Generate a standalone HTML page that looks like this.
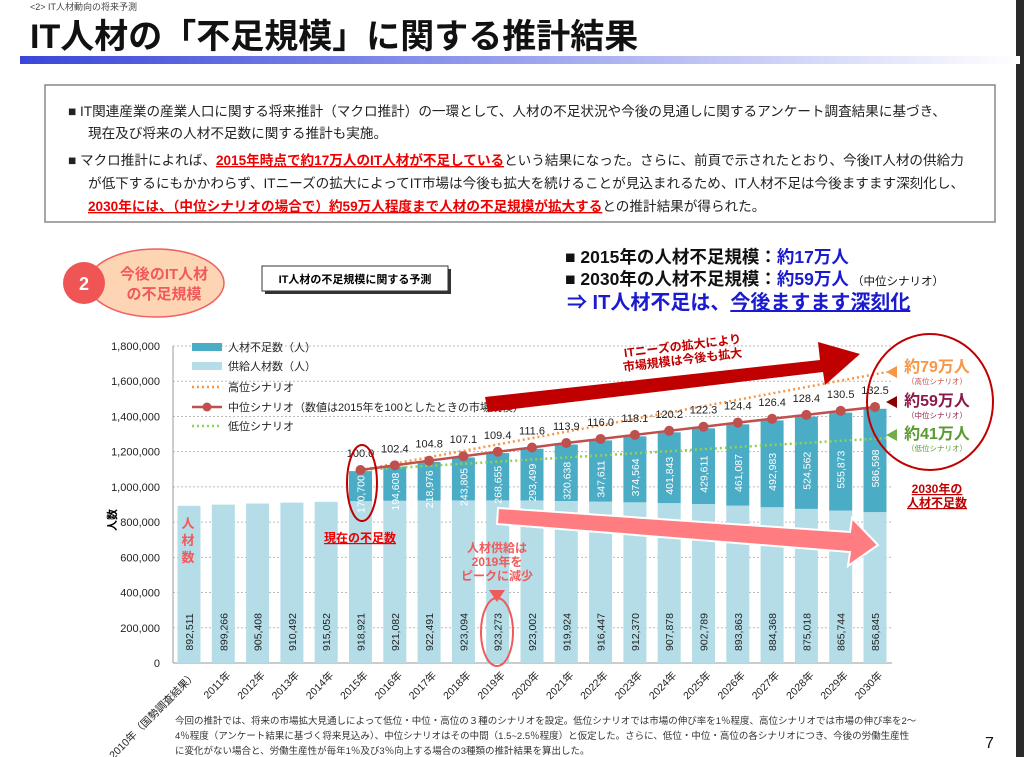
<!DOCTYPE html>
<html><head><meta charset="utf-8"><style>
body{margin:0;background:#fff;}
svg{display:block;font-family:"Liberation Sans","Noto Sans CJK JP",sans-serif;}
</style></head><body>
<svg id="s" width="1024" height="757" viewBox="0 0 1024 757" xmlns="http://www.w3.org/2000/svg">
<defs>
<linearGradient id="g1" x1="0" x2="1"><stop offset="0" stop-color="#3a46d8"/><stop offset="0.5" stop-color="#9aa2ee"/><stop offset="1" stop-color="#ffffff"/></linearGradient>
</defs>
<rect x="1016" y="0" width="8" height="757" fill="#2a2a2a"/>
<text x="30" y="10" font-size="9" fill="#444">&lt;2&gt; IT人材動向の将来予測</text>
<text x="30" y="48" font-size="34" font-weight="bold" fill="#111">IT人材の「不足規模」に関する推計結果</text>
<rect x="20" y="56" width="1000" height="8" fill="url(#g1)"/>
<g>
<rect x="45" y="85" width="950" height="137" fill="#fff" stroke="#888" stroke-width="1.5"/>
<g font-size="13.6" fill="#222">
<text x="68" y="116">■ IT関連産業の産業人口に関する将来推計（マクロ推計）の一環として、人材の不足状況や今後の見通しに関するアンケート調査結果に基づき、</text>
<text x="88" y="138">現在及び将来の人材不足数に関する推計も実施。</text>
<text x="68" y="165">■ マクロ推計によれば、<tspan fill="#e00" font-weight="bold" text-decoration="underline">2015年時点で約17万人のIT人材が不足している</tspan>という結果になった。さらに、前頁で示されたとおり、今後IT人材の供給力</text>
<text x="88" y="188">が低下するにもかかわらず、ITニーズの拡大によってIT市場は今後も拡大を続けることが見込まれるため、IT人材不足は今後ますます深刻化し、</text>
<text x="88" y="211"><tspan fill="#e00" font-weight="bold" text-decoration="underline">2030年には、（中位シナリオの場合で）約59万人程度まで人材の不足規模が拡大する</tspan>との推計結果が得られた。</text>
</g></g>
<g>
<ellipse cx="156" cy="283" rx="68" ry="34" fill="#fdd5b5" stroke="#f06060" stroke-width="1.5"/>
<circle cx="84" cy="283" r="21" fill="#f05555"/>
<text x="84" y="290" font-size="18" font-weight="bold" fill="#fff" text-anchor="middle">2</text>
<text x="164" y="279" font-size="15" font-weight="bold" fill="#f05a5a" text-anchor="middle">今後のIT人材</text>
<text x="164" y="299" font-size="15" font-weight="bold" fill="#f05a5a" text-anchor="middle">の不足規模</text>
</g>
<g>
<rect x="265" y="269" width="186" height="25" fill="#333"/>
<rect x="262" y="266" width="186" height="25" fill="#fff" stroke="#333"/>
<text x="355" y="283" font-size="11" font-weight="bold" text-anchor="middle">IT人材の不足規模に関する予測</text>
</g>
<g font-weight="bold">
<text x="565" y="263" font-size="17.5" fill="#111">■ 2015年の人材不足規模：<tspan fill="#1a1ad0">約17万人</tspan></text>
<text x="565" y="285" font-size="17.5" fill="#111">■ 2030年の人材不足規模：<tspan fill="#1a1ad0">約59万人</tspan><tspan font-size="11.5" font-weight="normal"> （中位シナリオ）</tspan></text>
<text x="567" y="309" font-size="20" fill="#1a1ad0">⇒ IT人材不足は、<tspan text-decoration="underline">今後ますます深刻化</tspan></text>
</g>
<g id="chart"></g>
<g font-size="9.5" fill="#333">
<text x="175" y="724">今回の推計では、将来の市場拡大見通しによって低位・中位・高位の３種のシナリオを設定。低位シナリオでは市場の伸び率を1％程度、高位シナリオでは市場の伸び率を2～</text>
<text x="175" y="739">4％程度（アンケート結果に基づく将来見込み）、中位シナリオはその中間（1.5~2.5％程度）と仮定した。さらに、低位・中位・高位の各シナリオにつき、今後の労働生産性</text>
<text x="175" y="754">に変化がない場合と、労働生産性が毎年1％及び3％向上する場合の3種類の推計結果を算出した。</text>
</g>
<text x="985" y="748" font-size="16" fill="#111">7</text>
<script>
const years=["2010年（国勢調査結果）","2011年","2012年","2013年","2014年","2015年","2016年","2017年","2018年","2019年","2020年","2021年","2022年","2023年","2024年","2025年","2026年","2027年","2028年","2029年","2030年"];
const supply=[892511,899266,905408,910492,915052,918921,921082,922491,923094,923273,923002,919924,916447,912370,907878,902789,893863,884368,875018,865744,856845];
const shortage=[null,null,null,null,null,170700,194608,218976,243805,268655,293499,320638,347611,374564,401843,429611,461087,492983,524562,555873,586598];
const midIndex=[null,null,null,null,null,100.0,102.4,104.8,107.1,109.4,111.6,113.9,116.0,118.1,120.2,122.3,124.4,126.4,128.4,130.5,132.5];
const highEnds=[100,150.5];
const lowEnds=[100,116.5];
const yTicks=[0,200000,400000,600000,800000,1000000,1200000,1400000,1600000,1800000];
const NS="http://www.w3.org/2000/svg";
const g=document.getElementById('chart');
const x0=189,dx=34.3,bw=23,yBase=663,yTop=346,yMax=1800000;
const X=i=>x0+i*dx;
const Y=v=>yBase-(v/yMax)*(yBase-yTop);
const YI=v=>470-(v-100)*1.94;
function el(t,a,p){const e=document.createElementNS(NS,t);for(const k in a)e.setAttribute(k,a[k]);(p||g).appendChild(e);return e;}
function tx(x,y,s,a,p){const e=el('text',a,p);e.textContent=s;e.setAttribute('x',x);e.setAttribute('y',y);return e;}
yTicks.forEach(v=>{
  const l=el('line',{x1:173,x2:892,y1:Y(v),y2:Y(v),stroke:v?'#bbb':'#999','stroke-dasharray':v?'2,2':'0'});
  
  
  const t=tx(160,Y(v)+4,v.toLocaleString('en-US'),{'font-size':11,'text-anchor':'end',fill:'#222'});
  
  
});
el('line',{x1:173,x2:173,y1:yTop,y2:yBase,stroke:'#999'});
const yt=tx(0,0,'人数',{'font-size':11,'font-weight':'bold',transform:'translate(116,520) rotate(-90)','text-anchor':'middle'});


supply.forEach((v,i)=>{
  const b=el('rect',{x:X(i)-bw/2,y:Y(v),width:bw,height:yBase-Y(v),fill:'#b4dde8'});
  
  
  const t=tx(0,0,v.toLocaleString('en-US'),{'font-size':10.5,fill:'#222','text-anchor':'middle',transform:`translate(${X(i)+4},632) rotate(-90)`});
  
  
  if(shortage[i]!=null){
    const top=Y(v+shortage[i]);
    const s=el('rect',{x:X(i)-bw/2,y:top,width:bw,height:Y(v)-top,fill:'#4bacc6'});
    
    
    const st=tx(0,0,shortage[i].toLocaleString('en-US'),{'font-size':10.5,fill:'#fff','text-anchor':'middle',transform:`translate(${X(i)+4},${(top+Y(v))/2+8}) rotate(-90)`});
    
    
  }
  const xl=tx(0,0,years[i],{'font-size':10.5,fill:'#222','text-anchor':'end',transform:`translate(${X(i)+8},676) rotate(-45)`});
  
  
});
const i0=5,i1=20;
const hl=el('line',{x1:X(i0),y1:YI(highEnds[0]),x2:X(i1)+12,y2:YI(highEnds[1]),stroke:'#f79646','stroke-width':2.5,'stroke-dasharray':'2,3'});


const ll=el('line',{x1:X(i0),y1:YI(lowEnds[0]),x2:X(i1)+12,y2:YI(lowEnds[1]),stroke:'#92d050','stroke-width':2.5,'stroke-dasharray':'2,3'});


let pts=[];midIndex.forEach((v,i)=>{if(v!=null)pts.push(X(i)+','+YI(v));});
const ml=el('polyline',{points:pts.join(' '),fill:'none',stroke:'#c0504d','stroke-width':2.5});


midIndex.forEach((v,i)=>{if(v==null)return;
  const c=el('circle',{cx:X(i),cy:YI(v),r:5,fill:'#c0504d'});
  
  
  const t=tx(X(i),YI(v)-13,v.toFixed(1),{'font-size':11,'text-anchor':'middle',fill:'#222'});
  
  
});
const lg=el('g',{'font-size':11,fill:'#222'});


el('rect',{x:192,y:343,width:30,height:8,fill:'#4bacc6'},lg);tx(228,351,'人材不足数（人）',{},lg);
el('rect',{x:192,y:362,width:30,height:8,fill:'#b4dde8'},lg);tx(228,370,'供給人材数（人）',{},lg);
el('line',{x1:192,x2:222,y1:387,y2:387,stroke:'#f79646','stroke-width':2.5,'stroke-dasharray':'2,3'},lg);tx(228,391,'高位シナリオ',{},lg);
el('line',{x1:192,x2:222,y1:407,y2:407,stroke:'#c0504d','stroke-width':2.5},lg);el('circle',{cx:207,cy:407,r:4.5,fill:'#c0504d'},lg);tx(228,411,'中位シナリオ（数値は2015年を100としたときの市場規模）',{},lg);
el('line',{x1:192,x2:222,y1:426,y2:426,stroke:'#92d050','stroke-width':2.5,'stroke-dasharray':'2,3'},lg);tx(228,430,'低位シナリオ',{},lg);
const an=el('g',{});


el('polygon',{points:'485,397 820,360 818,342 860,354 825,385 823,372 488,412',fill:'#c00000'},an);
tx(0,0,'ITニーズの拡大により',{'font-size':12,'font-weight':'bold',fill:'#c00000','text-anchor':'middle',transform:'translate(683,350) rotate(-7)'},an);
tx(0,0,'市場規模は今後も拡大',{'font-size':12,'font-weight':'bold',fill:'#c00000','text-anchor':'middle',transform:'translate(683,364) rotate(-7)'},an);
el('polygon',{points:'498,508 850,532 852,518 878,545 848,566 850,552 497,524',fill:'#ff7c80',stroke:'#fff','stroke-width':2},an);
el('ellipse',{cx:362,cy:483,rx:15,ry:38,fill:'none',stroke:'#c00000','stroke-width':2},an);
tx(360,542,'現在の不足数',{'font-size':12,'font-weight':'bold',fill:'#e00','text-anchor':'middle','text-decoration':'underline'},an);
['人','材','数'].forEach((c,k)=>tx(188,528+k*17,c,{'font-size':13,'font-weight':'bold',fill:'#f05a5a','text-anchor':'middle'},an));
['人材供給は','2019年を','ピークに減少'].forEach((c,k)=>tx(497,552+k*14,c,{'font-size':12,'font-weight':'bold',fill:'#f05a5a','text-anchor':'middle'},an));
el('polygon',{points:'489,590 505,590 497,602',fill:'#f05a5a'},an);
el('ellipse',{cx:497,cy:632,rx:16,ry:34,fill:'none',stroke:'#f05a5a','stroke-width':2},an);
el('ellipse',{cx:930,cy:402,rx:63,ry:68,fill:'none',stroke:'#c00000','stroke-width':2},an);
el('polygon',{points:'886,372 897,366 897,378',fill:'#f79646'},an);
el('polygon',{points:'886,402 897,396 897,408',fill:'#8b0000'},an);
el('polygon',{points:'886,435 897,429 897,441',fill:'#70ad47'},an);
tx(937,372,'約79万人',{'font-size':16,'font-weight':'bold',fill:'#f79646','text-anchor':'middle'},an);
tx(937,384,'（高位シナリオ）',{'font-size':7.5,fill:'#c0504d','text-anchor':'middle'},an);
tx(937,406,'約59万人',{'font-size':16,'font-weight':'bold',fill:'#8b1a4a','text-anchor':'middle'},an);
tx(937,418,'（中位シナリオ）',{'font-size':7.5,fill:'#8b1a4a','text-anchor':'middle'},an);
tx(937,439,'約41万人',{'font-size':16,'font-weight':'bold',fill:'#5a9a30','text-anchor':'middle'},an);
tx(937,451,'（低位シナリオ）',{'font-size':7.5,fill:'#5a9a30','text-anchor':'middle'},an);
tx(937,493,'2030年の',{'font-size':12,'font-weight':'bold',fill:'#c00000','text-anchor':'middle','text-decoration':'underline'},an);
tx(937,507,'人材不足数',{'font-size':12,'font-weight':'bold',fill:'#c00000','text-anchor':'middle','text-decoration':'underline'},an);
</script>
</svg>
</body></html>
